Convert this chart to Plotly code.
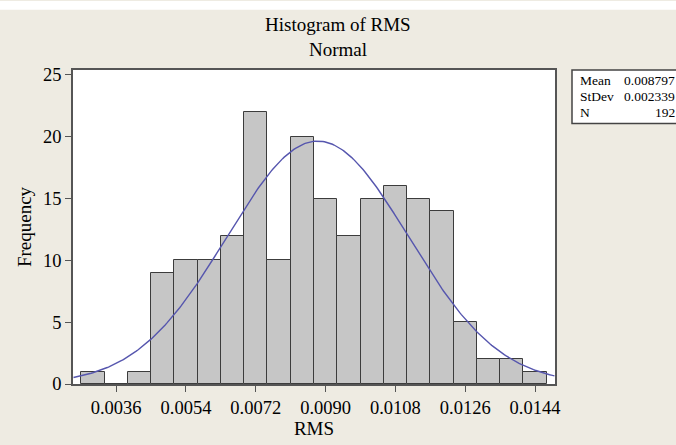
import numpy as np
import plotly.graph_objects as go

# Histogram bins (centres) and frequencies of RMS
bin_centers = [0.0030, 0.0036, 0.0042, 0.0048, 0.0054, 0.0060, 0.0066, 0.0072,
               0.0078, 0.0084, 0.0090, 0.0096, 0.0102, 0.0108, 0.0114, 0.0120,
               0.0126, 0.0132, 0.0138, 0.0144]
frequencies = [1, 0, 1, 9, 10, 10, 12, 22, 10, 20, 15, 12, 15, 16, 15, 14,
               5, 2, 2, 1]
bin_width = 0.0006

# Summary statistics
mean_rms = 0.008797
stdev_rms = 0.002339
n_obs = 192

x_ticks = [0.0036, 0.0054, 0.0072, 0.0090, 0.0108, 0.0126, 0.0144]
x_tick_labels = ["0.0036", "0.0054", "0.0072", "0.0090", "0.0108", "0.0126", "0.0144"]
y_ticks = [0, 5, 10, 15, 20, 25]

# Fitted normal curve scaled to counts
xs = np.linspace(0.0025, 0.0149, 300)
ys = n_obs * bin_width / (stdev_rms * np.sqrt(2 * np.pi)) * np.exp(-0.5 * ((xs - mean_rms) / stdev_rms) ** 2)

FONT = "Liberation Serif, Times New Roman, serif"
BG = "#eeebe2"

fig = go.Figure()
fig.add_trace(go.Bar(
    x=bin_centers, y=frequencies, width=bin_width,
    marker=dict(color="#c6c6c6", line=dict(color="#3c3c3c", width=1)),
    hoverinfo="x+y", showlegend=False,
))
fig.add_trace(go.Scatter(
    x=xs, y=ys, mode="lines",
    line=dict(color="#5656ae", width=1.4), showlegend=False,
))

fig.update_layout(
    width=676, height=445,
    margin=dict(l=73, r=121, t=70, b=52),
    paper_bgcolor=BG, plot_bgcolor="white",
    bargap=0,
    font=dict(family=FONT, size=18.5, color="black"),
    showlegend=False,
)
fig.update_xaxes(
    range=[0.002487, 0.014914], tickvals=x_ticks, ticktext=x_tick_labels,
    ticks="outside", ticklen=6, tickcolor="#555555",
    showline=True, linecolor="#555555", linewidth=1.5, mirror=True,
    showgrid=False, zeroline=False,
    title=dict(text="RMS", font=dict(size=19), standoff=2),
)
fig.update_yaxes(
    range=[0, 25.4], tickvals=y_ticks,
    ticks="outside", ticklen=6, tickcolor="#555555",
    showline=True, linecolor="#555555", linewidth=1.5, mirror=True,
    showgrid=False, zeroline=False,
    title=dict(text="Frequency", font=dict(size=19), standoff=6),
)

# White strip along the top edge
fig.add_shape(type="rect", xref="paper", yref="paper",
              x0=-0.16, x1=1.26, y0=(393 - 8) / 323, y1=1.22,
              fillcolor="white", line=dict(width=0), layer="below")

# Titles
fig.add_annotation(text="Histogram of RMS", xref="paper", yref="paper",
                   x=(338 - 73) / 482, y=(393 - 23) / 323, showarrow=False,
                   xanchor="center", yanchor="middle", font=dict(size=19))
fig.add_annotation(text="Normal", xref="paper", yref="paper",
                   x=(338 - 73) / 482, y=(393 - 49) / 323, showarrow=False,
                   xanchor="center", yanchor="middle", font=dict(size=19))

# Statistics box
fig.add_shape(type="rect", xref="paper", yref="paper",
              x0=(572 - 73) / 482, x1=(690 - 73) / 482,
              y0=(393 - 125) / 323, y1=(393 - 70) / 323,
              fillcolor="white", line=dict(color="#444444", width=1.5))
stat_rows = [("Mean", f"{mean_rms:.6f}", 81), ("StDev", f"{stdev_rms:.6f}", 97.5), ("N", str(n_obs), 114)]
for label, value, py in stat_rows:
    fig.add_annotation(text=label, xref="paper", yref="paper",
                       x=(578 - 73) / 482, y=(393 - py) / 323, showarrow=False,
                       xanchor="left", yanchor="middle", font=dict(size=13.5))
    fig.add_annotation(text=value, xref="paper", yref="paper",
                       x=(677 - 73) / 482, y=(393 - py) / 323, showarrow=False,
                       xanchor="right", yanchor="middle", font=dict(size=13.5))

fig.write_html("out.html")
